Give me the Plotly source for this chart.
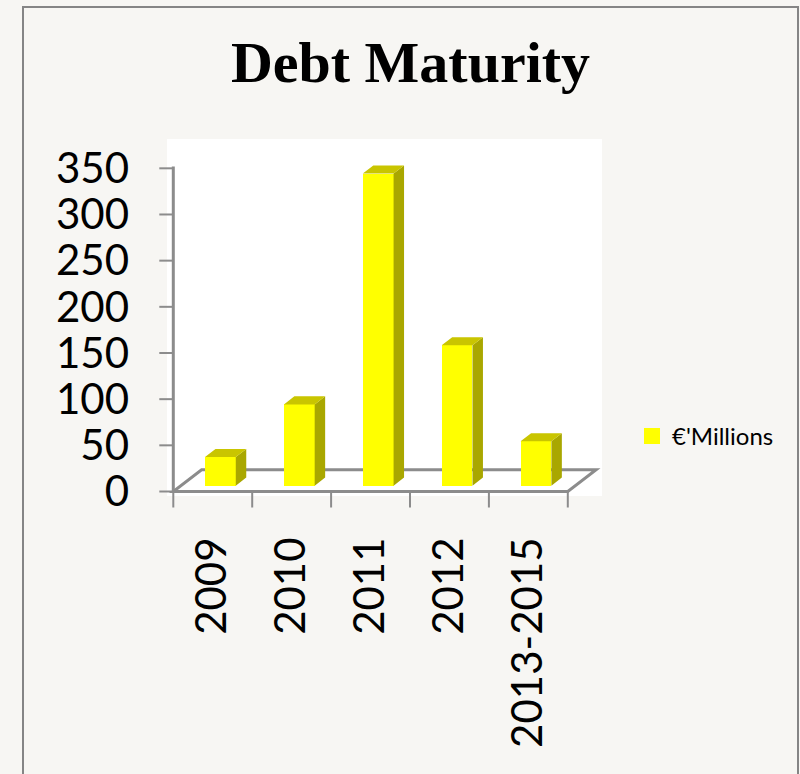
import plotly.graph_objects as go

# ---- data ----
categories = ["2009", "2010", "2011", "2012", "2013-2015"]
values = [31, 88, 338, 152, 48]          # € millions
y_ticks = [0, 50, 100, 150, 200, 250, 300, 350]
series_name = "€'Millions"
title_text = "Debt Maturity"

# ---- page / plot geometry (pixels) ----
W, H = 800, 774
PL, PR, PT, PB = 140, 620, 120, 520      # plot area box
X0_PX, X_UNIT = 173.3, 78.9              # pixel of x=-0.5, pixels per category
Y0_PX, Y_UNIT = 491.5, 0.9234            # pixel of y=0, pixels per unit

def px_to_x(px):
    return -0.5 + (px - X0_PX) / X_UNIT

def py_to_y(py):
    return (Y0_PX - py) / Y_UNIT

x_range = [px_to_x(PL), px_to_x(PR)]
y_range = [py_to_y(PB), py_to_y(PT)]

# oblique depth of the floor (data units) and bar placement within it
DX = 28.3 / X_UNIT
DY = 21.7 / Y_UNIT
F0, F1 = 0.27, 0.64                      # front / back depth fractions of bars
BW = 0.39                                # bar width (category units)
EDGE = 4                                 # bar outline width, same colour as fill

BG = "#f7f6f3"
AXIS = "#8c8c8c"
FRONT, TOP, SIDE = "#ffff00", "#c9c500", "#a9a700"

n = len(categories)
shift = F0 * DX
base = F0 * DY
ddx = (F1 - F0) * DX
ddy = (F1 - F0) * DY

fig = go.Figure()

# front faces of the columns (outline keeps the overall face size at BW)
fig.add_trace(go.Bar(
    x=[i + shift for i in range(n)],
    y=[v - EDGE / Y_UNIT for v in values],
    base=base + EDGE / 2 / Y_UNIT,
    width=BW - EDGE / X_UNIT,
    marker=dict(color=FRONT, line=dict(width=EDGE, color=FRONT)),
    name=series_name, showlegend=True, hoverinfo="skip",
))

# right side faces and top faces
sx, sy, tx, ty = [], [], [], []
for i, v in enumerate(values):
    xl = i + shift - BW / 2
    xr = i + shift + BW / 2
    top = base + v
    sx += [xr, xr + ddx, xr + ddx, xr, xr, None]
    sy += [base, base + ddy, top + ddy, top, base, None]
    tx += [xl, xl + ddx, xr + ddx, xr, xl, None]
    ty += [top, top + ddy, top + ddy, top, top, None]

fig.add_trace(go.Scatter(x=sx, y=sy, mode="lines", fill="toself",
                         fillcolor=SIDE, line=dict(width=0, color=SIDE),
                         showlegend=False, hoverinfo="skip"))
fig.add_trace(go.Scatter(x=tx, y=ty, mode="lines", fill="toself",
                         fillcolor=TOP, line=dict(width=0, color=TOP),
                         showlegend=False, hoverinfo="skip"))

shapes = []
# white chart area
shapes.append(dict(type="rect", layer="below", xref="x", yref="y",
                   x0=px_to_x(167), x1=px_to_x(602),
                   y0=py_to_y(496), y1=py_to_y(139),
                   fillcolor="white", line=dict(width=0)))
# floor outline
xa, xb = -0.5, n - 0.5
floor = (f"M{xa},0 L{xb},0 L{xb + DX},{DY} L{xa + DX},{DY} Z")
shapes.append(dict(type="path", path=floor, layer="below", xref="x", yref="y",
                   line=dict(color=AXIS, width=3)))
# vertical value axis
shapes.append(dict(type="line", layer="below", xref="x", yref="y",
                   x0=xa, x1=xa, y0=0, y1=y_ticks[-1] + 2,
                   line=dict(color=AXIS, width=3)))
tick_len_x = 14 / X_UNIT
for t in y_ticks:
    shapes.append(dict(type="line", layer="below", xref="x", yref="y",
                       x0=xa - tick_len_x, x1=xa, y0=t, y1=t,
                       line=dict(color=AXIS, width=2)))
tick_len_y = 16 / Y_UNIT
for k in range(n + 1):
    xv = k - 0.5
    shapes.append(dict(type="line", layer="below", xref="x", yref="y",
                       x0=xv, x1=xv, y0=0, y1=-tick_len_y,
                       line=dict(color=AXIS, width=2)))
# outer frame
def paper_x(px):
    return (px - PL) / (PR - PL)

def paper_y(py):
    return (PB - py) / (PB - PT)

shapes.append(dict(type="rect", xref="paper", yref="paper", layer="above",
                   x0=paper_x(23), x1=paper_x(798), y0=paper_y(790), y1=paper_y(7),
                   line=dict(color="#858585", width=2), fillcolor="rgba(0,0,0,0)"))

fig.update_layout(
    width=W, height=H,
    margin=dict(l=PL, r=W - PR, t=PT, b=H - PB, pad=0),
    paper_bgcolor=BG, plot_bgcolor=BG,
    shapes=shapes,
    bargap=0,
    title=dict(text=f"<b>{title_text}</b>", x=410.5 / W, xanchor="center",
               xref="container", yref="container", y=1 - 62 / H, yanchor="middle",
               font=dict(family="Liberation Serif", size=58, color="black")),
    xaxis=dict(range=x_range, showgrid=False, zeroline=False, showline=False,
               tickmode="array", tickvals=list(range(n)), ticktext=categories,
               tickangle=-90, ticks="", ticklabelstandoff=8,
               tickfont=dict(family="Lato", size=42, color="black"),
               fixedrange=True),
    yaxis=dict(range=y_range, showgrid=False, zeroline=False, showline=False,
               tickmode="array", tickvals=y_ticks, ticks="",
               ticklabelstandoff=10,
               tickfont=dict(family="Lato", size=42, color="black"),
               fixedrange=True),
    legend=dict(x=paper_x(632), y=paper_y(436.5), xanchor="left", yanchor="middle",
                bgcolor="rgba(0,0,0,0)", borderwidth=0,
                font=dict(family="Lato", size=24, color="black")),
    showlegend=True,
)

fig.write_html("out.html")
